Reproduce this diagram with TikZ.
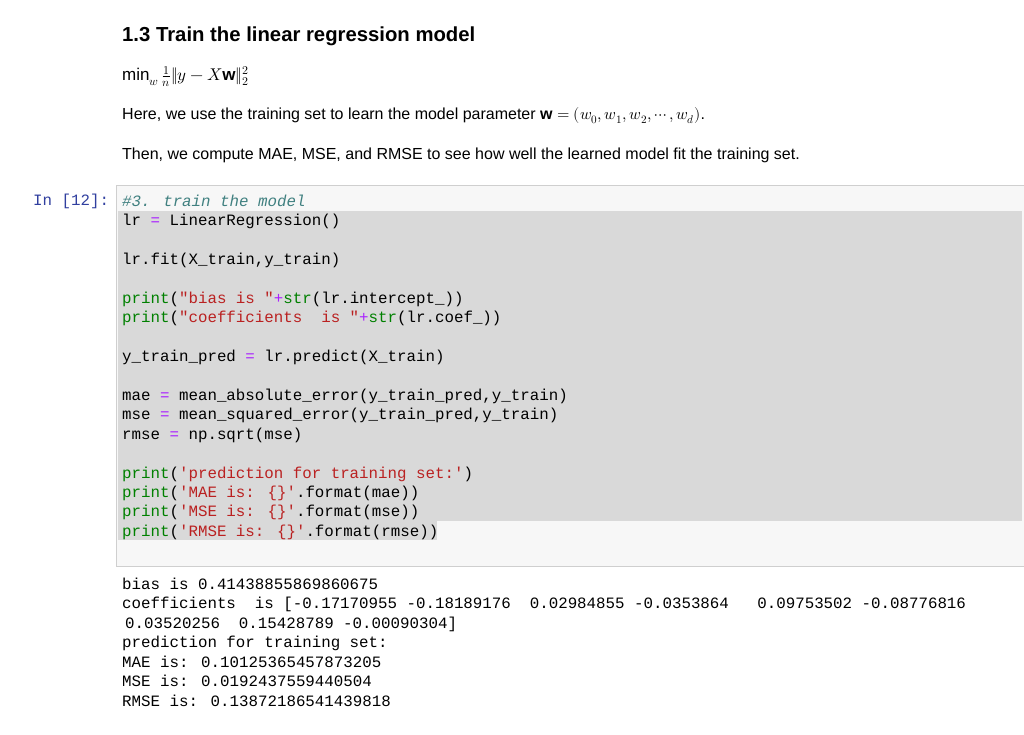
\documentclass[tikz,border=0pt]{standalone}
\usepackage{fontspec}
\usepackage{unicode-math}
\setmathfont{Latin Modern Math}
\setmainfont{Liberation Sans}
\setmonofont{Liberation Mono}
\definecolor{cm}{HTML}{408080}
\definecolor{kw}{HTML}{008000}
\definecolor{st}{HTML}{BA2121}
\definecolor{op}{HTML}{AA22FF}
\definecolor{pr}{HTML}{303F9F}
\definecolor{cellbg}{HTML}{F7F7F7}
\definecolor{cellbd}{HTML}{CFCFCF}
\definecolor{sel}{HTML}{D9D9D9}
\newcommand{\K}[1]{\textcolor{kw}{#1}}
\newcommand{\Sx}[1]{\textcolor{st}{#1}}
\newcommand{\Op}[1]{\textcolor{op}{#1}}
\begin{document}
\begin{tikzpicture}[x=1pt,y=-1pt,
  code/.style={anchor=base west,inner sep=0pt,font=\ttfamily\fontsize{15.8}{19}\selectfont,text=black},
  txt/.style={anchor=base west,inner sep=0pt,font=\fontsize{16}{19}\selectfont,text=black}]
\useasboundingbox[fill=white] (0,0) rectangle (1024,735);
\fill[cellbg,draw=cellbd] (116,185) rectangle (1030,566);
\fill[sel] (118,211) rectangle (1022,521);
\fill[sel] (118,521) rectangle (437,540);
\node[txt,font=\bfseries\fontsize{20.3}{24}\selectfont] (h) at (122,42) {1.3 Train the linear regression model};
\node[txt,font=\fontsize{17}{20}\selectfont] (m) at (122,81) {$\min_w \frac{1}{n}\|y - X\mathbf{w}\|_2^2$};
\node[txt] (p1) at (122,120) {Here, we use the training set to learn the model parameter $\mathbf{w}=(w_0,w_1,w_2,\cdots,w_d)$.};
\node[txt] (p2) at (122,160) {Then, we compute MAE, MSE, and RMSE to see how well the learned model fit the training set.};
\node[code,text=pr] (in) at (33,206) {In [12]:};
\node[code] (c0) at (122,206.5) {\textcolor{cm}{\itshape \#3. train the model}};
\node[code] (c1) at (122,225.9) {lr \Op{=} LinearRegression()};
\node[code] (c3) at (122,264.7) {lr.fit(X\_train,y\_train)};
\node[code] (c5) at (122,303.5) {\K{print}(\Sx{"bias is "}\Op{+}\K{str}(lr.intercept\_))};
\node[code] (c6) at (122,322.9) {\K{print}(\Sx{"coefficients\ \ is "}\Op{+}\K{str}(lr.coef\_))};
\node[code] (c8) at (122,361.7) {y\_train\_pred \Op{=} lr.predict(X\_train)};
\node[code] (c10) at (122,400.5) {mae \Op{=} mean\_absolute\_error(y\_train\_pred,y\_train)};
\node[code] (c11) at (122,419.9) {mse \Op{=} mean\_squared\_error(y\_train\_pred,y\_train)};
\node[code] (c12) at (122,439.3) {rmse \Op{=} np.sqrt(mse)};
\node[code] (c14) at (122,478.1) {\K{print}(\Sx{'prediction for training set:'})};
\node[code] (c15) at (122,497.5) {\K{print}(\Sx{'MAE is: \{\}'}.format(mae))};
\node[code] (c16) at (122,516.9) {\K{print}(\Sx{'MSE is: \{\}'}.format(mse))};
\node[code] (c17) at (122,536.3) {\K{print}(\Sx{'RMSE is: \{\}'}.format(rmse))};
\node[code] (o0) at (122,589) {bias is 0.41438855869860675};
\node[code] (o1) at (122,608.5) {coefficients\ \ is [-0.17170955 -0.18189176\ \ 0.02984855 -0.0353864\ \ \ 0.09753502 -0.08776816};
\node[code] (o2) at (125,628) {0.03520256\ \ 0.15428789 -0.00090304]};
\node[code] (o3) at (122,647.5) {prediction for training set:};
\node[code] (o4) at (122,667) {MAE is: 0.10125365457873205};
\node[code] (o5) at (122,686.5) {MSE is: 0.0192437559440504};
\node[code] (o6) at (122,706) {RMSE is: 0.13872186541439818};
\end{tikzpicture}
\end{document}
